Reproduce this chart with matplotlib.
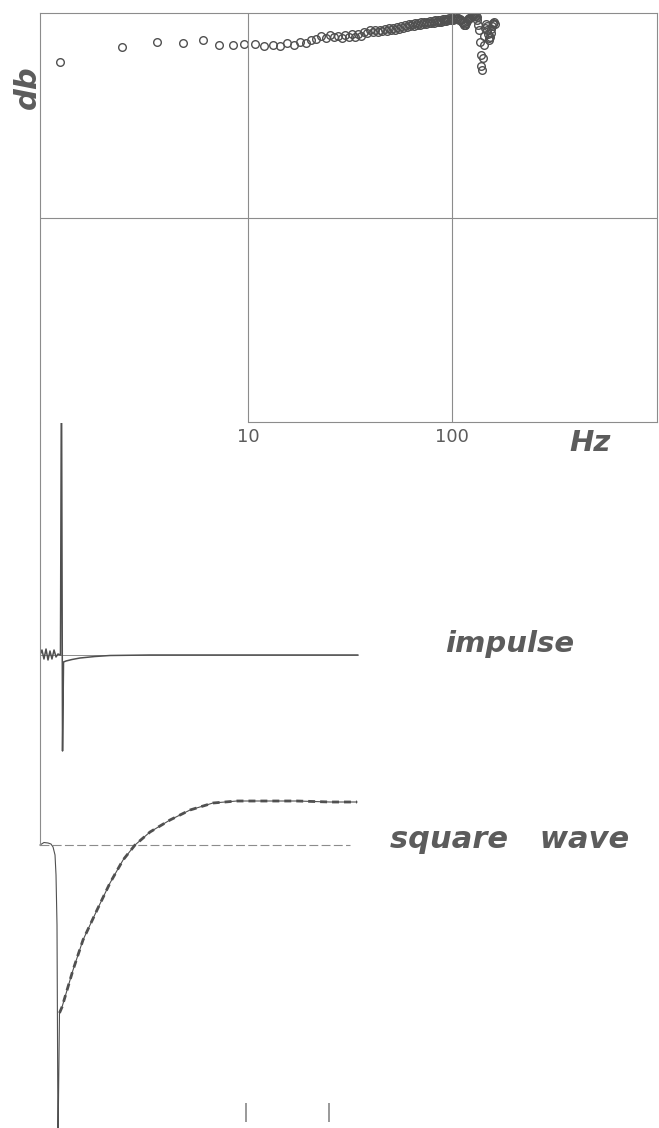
"""
Frequency response, impulse and square wave response of a loudspeaker
"""

import matplotlib.pyplot as plt
from matplotlib.ticker import NullLocator


# Frequency response (Hz, dB relative to the top line of the chart)
freq_hz = [1.2, 2.4, 3.6, 4.8, 6.0, 7.2, 8.4, 9.6,
           10.8, 12.0, 13.2, 14.4, 15.6, 16.8, 18.0, 19.2, 20.4, 21.6,
           22.8, 24.0, 25.2, 26.4, 27.6, 28.8, 30.0, 31.2, 32.4, 33.6,
           34.8, 36.0, 37.2, 38.4, 39.6, 40.8, 42.0, 43.2, 44.4, 45.6,
           46.8, 48.0, 49.2, 50.4, 51.6, 52.8, 54.0, 55.2, 56.4, 57.6,
           58.8, 60.0, 61.2, 62.4, 63.6, 64.8, 66.0, 67.2, 68.4, 69.6,
           70.8, 72.0, 73.2, 74.4, 75.6, 76.8, 78.0, 79.2, 80.4, 81.6,
           82.8, 84.0, 85.2, 86.4, 87.6, 88.8, 90.0, 91.2, 92.4, 93.6,
           94.8, 96.0, 97.2, 98.4, 99.6, 100.8, 102.0, 103.2, 104.4, 105.6,
           106.8, 108.0, 109.2, 110.4, 111.6, 112.8, 114.0, 115.2, 116.4, 117.6,
           118.8, 120.0, 121.2, 122.4, 123.6, 124.8, 126.0, 127.2, 128.4, 129.6,
           130.8, 132.0, 133.2, 134.4, 135.6, 136.8, 138.0, 139.2, 140.4, 141.6,
           142.8, 144.0, 145.2, 146.4, 147.6, 148.8, 150.0, 151.2, 152.4, 153.6,
           154.8, 156.0, 157.2, 158.4, 159.6, 160.8, 162.0]
level_db = [-4.80, -3.30, -2.80, -2.90, -2.60, -3.10, -3.10, -3.00,
            -3.05, -3.25, -3.10, -3.22, -2.98, -3.12, -2.85, -2.95, -2.62, -2.58,
            -2.25, -2.40, -2.18, -2.35, -2.22, -2.45, -2.20, -2.38, -2.10, -2.30,
            -2.05, -2.22, -1.85, -2.00, -1.70, -1.90, -1.65, -1.85, -1.62, -1.80,
            -1.55, -1.75, -1.48, -1.68, -1.45, -1.62, -1.40, -1.58, -1.32, -1.50,
            -1.22, -1.40, -1.12, -1.30, -1.05, -1.25, -1.02, -1.22, -0.98, -1.18,
            -0.92, -1.12, -0.88, -1.08, -0.85, -1.02, -0.78, -0.98, -0.75, -0.95,
            -0.72, -0.92, -0.70, -0.90, -0.68, -0.86, -0.62, -0.82, -0.58, -0.78,
            -0.55, -0.72, -0.50, -0.68, -0.46, -0.64, -0.42, -0.58, -0.44, -0.62,
            -0.48, -0.66, -0.55, -0.70, -0.85, -1.00, -1.14, -1.20, -1.21, -1.02,
            -0.78, -0.63, -0.52, -0.47, -0.39, -0.29, -0.24, -0.20, -0.21, -0.26,
            -0.32, -0.38, -0.69, -1.18, -1.67, -2.84, -4.12, -5.20, -5.59, -4.41,
            -3.14, -2.25, -1.47, -1.08, -1.27, -1.67, -2.06, -2.45, -2.65, -2.35,
            -1.96, -1.57, -1.27, -1.08, -0.98, -0.88, -1.08]

# Impulse response (ms, amplitude over its baseline)
impulse_t = [0.0, 0.24, 0.48, 0.73, 0.97, 1.21, 1.45, 1.70, 1.94, 2.18, 2.48,
             2.60, 2.73, 2.85, 3.15, 3.88, 4.85, 6.66, 8.48, 13.3, 25.4, 38.5]
impulse_v = [0.0, 0.5, -0.4, 0.6, -0.5, 0.4, -0.4, 0.5, -0.2, 0.1, 0.0,
             30.0, -9.6, -0.7, -0.6, -0.45, -0.3, -0.15, -0.05, 0.0, 0.0, 0.0]

# Square wave response (ms, amplitude over its baseline)
square_t = [0.0, 0.48, 0.97, 1.33, 1.58, 1.82, 1.94, 2.06, 2.18, 2.36, 2.67,
            4.00, 5.21, 6.91, 8.48, 10.06, 11.51, 13.33, 15.75, 18.18, 20.96,
            23.87, 27.02, 31.14, 35.14, 38.41]
square_v = [0.0, 0.25, 0.2, 0.1, -0.2, -1.0, -3.0, -8.0, -30.0, -16.8, -16.2,
            -12.5, -9.5, -6.5, -3.8, -1.5, 0.0, 1.3, 2.5, 3.5, 4.2,
            4.4, 4.4, 4.4, 4.3, 4.3]

IMPULSE_BASE = 0.0
SQUARE_BASE = -19.0

ink = '#505050'
line_ink = '#8c8c8c'
text_ink = '#5c5c5c'

fig = plt.figure(figsize=(6.59, 11.28), dpi=100)

# Частотна характеристика
ax = fig.add_axes([40 / 659, 1 - 422 / 1128, 617 / 659, 409 / 1128])
ax.set_xscale('log')
ax.set_xlim(0.956, 1011)
ax.set_ylim(-40, 0)
ax.plot(freq_hz, level_db, linestyle='none', marker='o', markersize=5.5,
        markerfacecolor='none', markeredgecolor=ink, markeredgewidth=1.0)
ax.axhline(-20, color=line_ink, lw=0.8)
for f in [10, 100]:
    ax.axvline(f, color=line_ink, lw=0.8)
for side in ['top', 'right', 'left', 'bottom']:
    ax.spines[side].set_color(line_ink)
    ax.spines[side].set_linewidth(0.8)
ax.spines['bottom'].set_bounds(10, 1011)
ax.set_xticks([10, 100], ['10', '100'])
ax.xaxis.set_minor_locator(NullLocator())
ax.set_yticks([])
ax.tick_params(axis='x', length=0, pad=4, labelsize=13, labelcolor=text_ink)
ax.text(0.891, -0.0513, 'Hz', transform=ax.transAxes, ha='center', va='center',
        fontsize=21, fontweight='bold', style='italic', color=text_ink)
ax.text(-0.021, 0.819, 'db', transform=ax.transAxes, ha='center', va='center',
        rotation=90, fontsize=22, fontweight='bold', style='italic', color=text_ink)

# Імпульс і меандр
ax2 = fig.add_axes([40 / 659, 1 - 1122 / 1128, 619 / 659, 699 / 1128])
ax2.set_xlim(0, 75)
ax2.set_ylim(-46.7, 23.2)
ax2.patch.set_alpha(0)

ax2.hlines(IMPULSE_BASE, 0, 38.5, color=line_ink, lw=0.7)
ax2.plot(impulse_t, [IMPULSE_BASE + v for v in impulse_v], color=ink, lw=1.1)

ax2.hlines(SQUARE_BASE, 0, 37.5, color=line_ink, lw=0.8, linestyles=(0, (8, 3)))
square_y = [SQUARE_BASE + v for v in square_v]
ax2.plot(square_t, square_y, color=ink, lw=0.8, clip_on=False)
ax2.plot(square_t[9:], square_y[9:], color=ink, lw=2.0, linestyle=(0, (2.5, 1.8)))

ax2.text(56.9, IMPULSE_BASE + 1.1, 'impulse', ha='center', va='center',
         fontsize=21, fontweight='bold', style='italic', color=text_ink)
ax2.text(56.9, SQUARE_BASE + 0.5, 'square   wave', ha='center', va='center',
         fontsize=22, fontweight='bold', style='italic', color=text_ink)

for side in ['top', 'right', 'bottom']:
    ax2.spines[side].set_visible(False)
ax2.spines['left'].set_color(line_ink)
ax2.spines['left'].set_linewidth(0.8)
ax2.spines['left'].set_bounds(SQUARE_BASE, 23.2)
ax2.set_xticks([25, 35])
ax2.set_yticks([])
ax2.tick_params(axis='x', direction='in', length=14, width=1.2, color='#888888',
                labelbottom=False)

fig.savefig('out.png', dpi=100)
